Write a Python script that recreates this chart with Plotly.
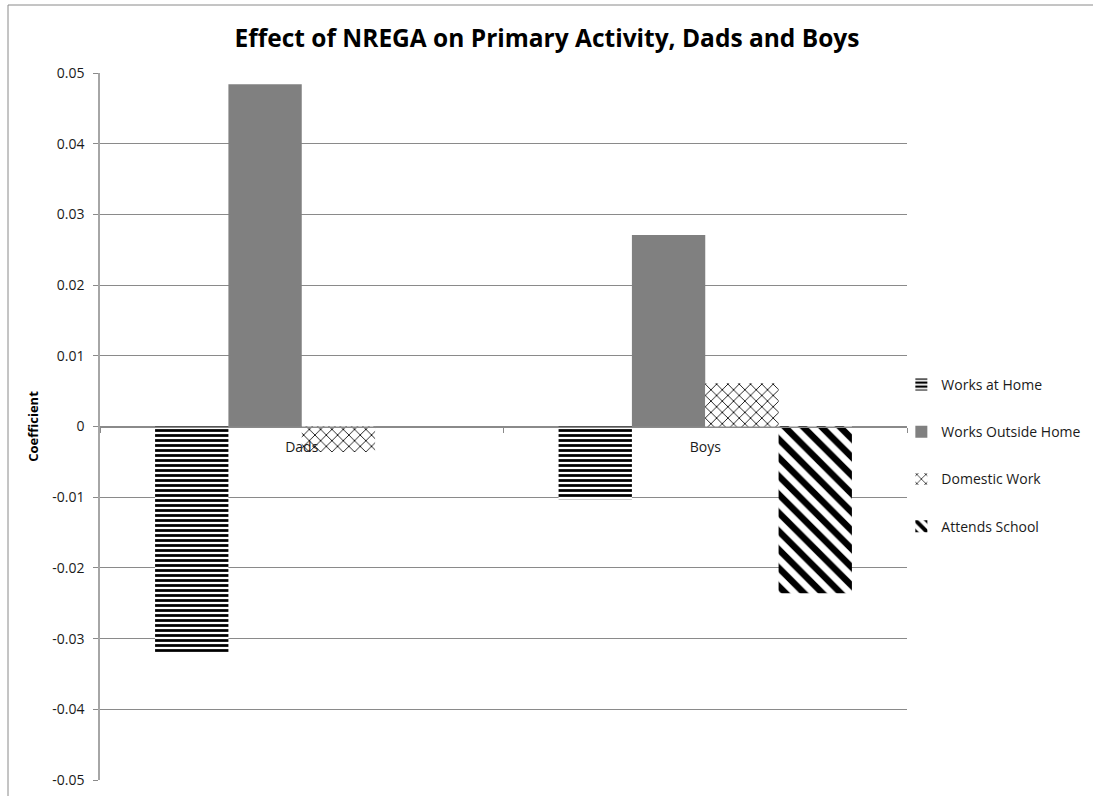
import plotly.graph_objects as go

categories = ["Dads", "Boys"]
series_names = ["Works at Home", "Works Outside Home", "Domestic Work", "Attends School"]
works_at_home = [-0.0320, -0.0103]
works_outside_home = [0.0484, 0.0271]
domestic_work = [-0.0036, 0.0061]
attends_school = [0.0, -0.0236]
y_tick_vals = [0.05, 0.04, 0.03, 0.02, 0.01, 0.0, -0.01, -0.02, -0.03, -0.04, -0.05]
y_tick_text = ["0.05", "0.04", "0.03", "0.02", "0.01", "0", "-0.01", "-0.02", "-0.03", "-0.04", "-0.05"]

FONT = "Open Sans"
TXT = "#1a1a1a"
GRID = "#8a8a8a"
values = [works_at_home, works_outside_home, domestic_work, attends_school]
styles = [
    dict(color="white", pattern=dict(shape="-", fgcolor="black", bgcolor="white", fgopacity=1,
                                     size=5, solidity=0.55, fillmode="replace")),
    dict(color="#808080"),
    dict(color="white", pattern=dict(shape="x", fgcolor="black", bgcolor="white", fgopacity=1,
                                     size=8, solidity=0.2, fillmode="replace")),
    dict(color="white", pattern=dict(shape="\\", fgcolor="black", bgcolor="white", fgopacity=1,
                                     size=13, solidity=0.5, fillmode="replace")),
]

fig = go.Figure()
for i, (name, vals, st) in enumerate(zip(series_names, values, styles)):
    fig.add_trace(go.Bar(
        x=categories, y=vals, name=name, legendgroup=f"g{i}",
        marker=dict(line=dict(width=0), **st),
    ))

fig.update_layout(
    width=1093, height=796,
    margin=dict(l=100, r=186, t=73, b=16, autoexpand=False),
    paper_bgcolor="white", plot_bgcolor="white",
    barmode="group", bargap=0.273, bargroupgap=0,
    title=dict(text="<b>Effect of NREGA on Primary Activity, Dads and Boys</b>",
               x=547 / 1093, xanchor="center", y=1 - 38 / 796, yanchor="middle",
               font=dict(family=FONT, size=24.5, color="black")),
    font=dict(family=FONT, size=14, color=TXT),
    showlegend=True,
    legend=dict(x=0.993, xanchor="left", y=(780 - 369) / 707, yanchor="top",
                traceorder="grouped", tracegroupgap=26,
                font=dict(family=FONT, size=14, color=TXT),
                itemwidth=30, bgcolor="rgba(0,0,0,0)"),
    xaxis=dict(type="category", anchor="free", position=0.5,
               showgrid=False, showline=True, linecolor=GRID, linewidth=1.2,
               ticks="outside", tickson="boundaries", ticklen=5, tickcolor=GRID,
               ticklabelstandoff=8,
               tickfont=dict(family=FONT, size=14, color=TXT)),
    yaxis=dict(range=[-0.05, 0.05], tickvals=y_tick_vals, ticktext=y_tick_text,
               automargin=False,
               showgrid=True, gridcolor=GRID, gridwidth=1,
               zeroline=False,
               showline=True, linecolor="#a6a6a6", linewidth=1.5,
               ticks="outside", ticklen=5, tickcolor=GRID,
               ticklabelstandoff=6,
               tickfont=dict(family=FONT, size=14, color=TXT),
               title=dict(text="<b>Coefficient</b>", standoff=11,
                          font=dict(family=FONT, size=13, color="black"))),
    shapes=[dict(type="rect", xref="paper", yref="paper",
                 x0=(8 - 100) / 807, x1=1.4, y0=-0.1, y1=(780 - 5) / 707,
                 line=dict(color=GRID, width=1), fillcolor="rgba(0,0,0,0)", layer="below")],
)

fig.write_html("out.html", config={"displayModeBar": False},
               post_script="document.body.style.margin='0px';")
